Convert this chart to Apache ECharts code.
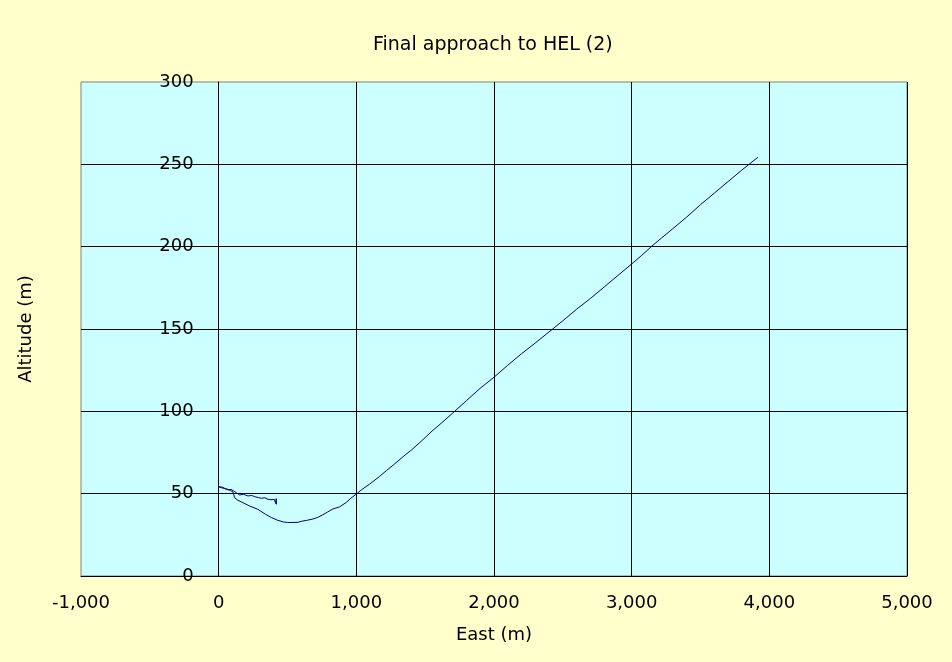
<!DOCTYPE html>
<html>
<head>
<meta charset="utf-8">
<script src="https://cdn.jsdelivr.net/npm/echarts@6/dist/echarts.min.js"></script>
<style>
html,body{margin:0;padding:0;background:#FFFFCC;}
#chart{width:952px;height:662px;}
</style>
</head>
<body>
<div id="chart"></div>
<script>
// Track of the final approach: East (m) and Altitude (m), in recorded order
const eastM = [
  3917, 3800, 3700, 3600, 3500, 3400, 3300, 3220, 3142, 3070, 3000, 2900, 2800, 2700, 2600, 2500,
  2426, 2300, 2200, 2100, 2000, 1900, 1800, 1714, 1620, 1550, 1480, 1400, 1340, 1270, 1218, 1169,
  1097, 1040, 1000, 960, 927, 879, 830, 790, 757, 720, 685, 640, 600, 576, 540, 500,
  470, 430, 383, 340, 285, 225, 177, 140, 116, 104,
  85, 60, 40, 20, 2, 12, 30, 50, 70, 90, 104, 128,
  152, 180, 213, 240, 261, 290, 310, 335, 358, 380, 394, 405, 414, 418, 420
];
const altitudeM = [
  254.3, 246.5, 239.5, 232.5, 225.5, 218, 211, 205.5, 200, 194.5, 189.5, 182.5, 175.5, 168.5, 162, 155,
  150, 141.5, 135, 128, 120.7, 114, 106.5, 100, 93, 88, 82.5, 76.5, 72.5, 67.5, 64, 60.5,
  55.8, 52.5, 49.8, 47.2, 44.7, 42, 40.7, 38.8, 37.2, 35.6, 34.6, 33.8, 33.2, 32.6, 32.5, 32.5,
  32.8, 33.8, 35.5, 37.5, 40.5, 42.5, 44.5, 46, 47.5, 51,
  52, 52.8, 53.2, 53.6, 54.2, 53.2, 53.9, 52.9, 52.3, 52.6, 51.4, 50.6,
  49.2, 49.6, 48.6, 48.9, 48.2, 47.6, 47.2, 47.5, 46.6, 46.3, 45.5, 46.5, 44, 47, 43.5
];
const xTicks = [-1000, 0, 1000, 2000, 3000, 4000, 5000];
const yTicks = [0, 50, 100, 150, 200, 250, 300];

const track = eastM.map((e, i) => [e, altitudeM[i]]);
const fontFamily = "'DejaVu Sans', sans-serif";
const gridLeft = 81;

const chart = echarts.init(document.getElementById('chart'));
chart.setOption({
  animation: false,
  backgroundColor: '#FFFFCC',
  title: {
    text: 'Final approach to HEL (2)',
    left: 368,
    top: 31,
    textStyle: { fontFamily, fontSize: 19, fontWeight: 'normal', color: '#000' }
  },
  grid: {
    left: gridLeft, right: 45, top: 82, bottom: 86,
    containLabel: false,
    outerBoundsMode: 'none',
    show: true,
    backgroundColor: '#CCFFFF',
    borderColor: '#808080',
    borderWidth: 1
  },
  xAxis: {
    type: 'value',
    min: xTicks[0],
    max: xTicks[xTicks.length - 1],
    interval: 1000,
    name: 'East (m)',
    nameLocation: 'middle',
    nameGap: 50,
    nameTextStyle: { fontFamily, fontSize: 18, color: '#000' },
    axisLine: { show: true, onZero: false, lineStyle: { color: '#000', width: 1 } },
    axisTick: { show: false },
    axisLabel: {
      fontFamily, fontSize: 18, color: '#000', margin: 18,
      formatter: v => v.toLocaleString('en-US')
    },
    splitLine: { show: true, showMinLine: false, lineStyle: { color: '#000', width: 1 } }
  },
  yAxis: {
    type: 'value',
    min: yTicks[0],
    max: yTicks[yTicks.length - 1],
    interval: 50,
    name: 'Altitude (m)',
    nameLocation: 'middle',
    nameGap: 183,
    nameTextStyle: { fontFamily, fontSize: 18, color: '#000' },
    axisLine: { show: true, onZero: true, lineStyle: { color: '#000', width: 1 } },
    axisTick: { show: false },
    axisLabel: { fontFamily, fontSize: 18, color: '#000', margin: 25 },
    splitLine: { show: true, showMaxLine: false, lineStyle: { color: '#000', width: 1 } }
  },
  series: [{
    type: 'line',
    data: track,
    showSymbol: false,
    symbol: 'none',
    lineStyle: { color: '#000080', width: 1 },
    itemStyle: { color: '#000080' }
  }]
});

// Place the value axis where East = 0, as in the reference (axis crossing at 0)
const zeroX = chart.convertToPixel({ xAxisIndex: 0 }, 0);
chart.setOption({ yAxis: { offset: gridLeft - zeroX } });
</script>
</body>
</html>
